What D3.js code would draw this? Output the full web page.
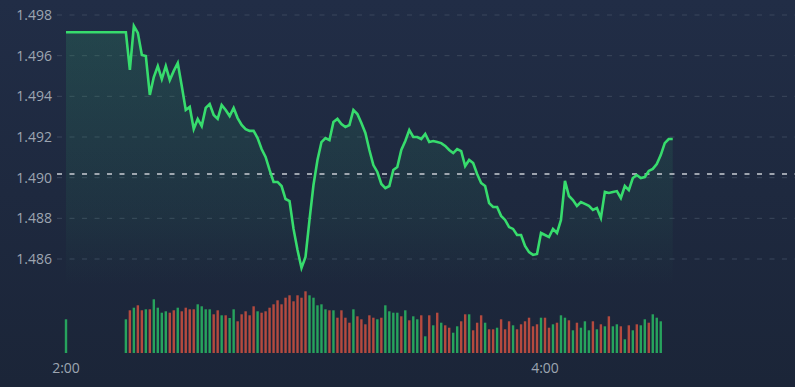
<!DOCTYPE html>
<html>
<head>
<meta charset="utf-8">
<script src="https://cdn.jsdelivr.net/npm/d3@7"></script>
<style>
  html, body { margin: 0; padding: 0; background: #1d283d; overflow: hidden; }
  svg { display: block; }
</style>
</head>
<body>
<div id="chart"></div>
<script>
// chart size
const width = 795;
const height = 387;

// minutes after 2:00 for each price point
const priceMinutes = [0].concat(d3.range(15, 153));
// price
const prices = [
  1.49715,
  1.49715, 1.49530, 1.49746, 1.49712, 1.49603, 1.49598, 1.49407, 1.49495, 1.49549, 1.49485,
  1.49549, 1.49480, 1.49525, 1.49564, 1.49451, 1.49333, 1.49348, 1.49239, 1.49289, 1.49254,
  1.49343, 1.49362, 1.49308, 1.49289, 1.49357, 1.49333, 1.49303, 1.49343, 1.49293, 1.49259,
  1.49239, 1.49230, 1.49230, 1.49195, 1.49141, 1.49102, 1.49038, 1.48979, 1.48979, 1.48959,
  1.48895, 1.48885, 1.48748, 1.48644, 1.48556, 1.48610, 1.48792, 1.48964, 1.49087, 1.49175,
  1.49195, 1.49185, 1.49274, 1.49289, 1.49264, 1.49249, 1.49259, 1.49333, 1.49313, 1.49269,
  1.49220, 1.49136, 1.49062, 1.49028, 1.48969, 1.48949, 1.48959, 1.49038, 1.49052, 1.49136,
  1.49180, 1.49234, 1.49200, 1.49200, 1.49190, 1.49215, 1.49175, 1.49180, 1.49175, 1.49170,
  1.49156, 1.49136, 1.49121, 1.49141, 1.49131, 1.49057, 1.49087, 1.49072, 1.49018, 1.48974,
  1.48959, 1.48875, 1.48856, 1.48856, 1.48812, 1.48792, 1.48757, 1.48748, 1.48718, 1.48718,
  1.48664, 1.48634, 1.48620, 1.48625, 1.48728, 1.48718, 1.48708, 1.48748, 1.48728, 1.48792,
  1.48984, 1.48910, 1.48890, 1.48861, 1.48880, 1.48871, 1.48861, 1.48841, 1.48851, 1.48802,
  1.48930, 1.48925, 1.48930, 1.48934, 1.48900, 1.48959, 1.48939, 1.48998, 1.49013, 1.48998,
  1.49003, 1.49033, 1.49043, 1.49067, 1.49111, 1.49170, 1.49190, 1.49190
];

// volume bars: minute, size, direction (1 up / 0 down)
const volMinutes = [0].concat(d3.range(15, 150));
const volumes = [
  337,
  337, 427, 453, 477, 427, 437, 437, 537, 453, 403,
  417, 403, 427, 453, 417, 453, 437, 437, 487, 467,
  437, 437, 387, 427, 377, 377, 350, 437, 317, 387,
  417, 377, 467, 417, 403, 417, 453, 487, 527, 487,
  553, 577, 517, 577, 553, 617, 577, 553, 477, 487,
  437, 427, 427, 353, 427, 353, 303, 437, 367, 337,
  287, 377, 353, 337, 353, 477, 417, 403, 403, 367,
  427, 327, 367, 337, 377, 167, 377, 277, 403, 303,
  277, 253, 203, 267, 317, 387, 387, 227, 303, 377,
  303, 237, 237, 253, 337, 237, 317, 277, 237, 287,
  317, 353, 267, 287, 353, 353, 253, 287, 303, 377,
  353, 327, 227, 303, 253, 317, 227, 317, 237, 287,
  267, 367, 267, 287, 267, 137, 277, 227, 287, 277,
  337, 303, 387, 353, 317
];
const volDirs = [
  1,
  1, 0, 1, 0, 0, 1, 0, 1, 1, 1,
  1, 0, 0, 1, 0, 0, 0, 0, 1, 1,
  1, 1, 0, 0, 1, 0, 1, 1, 0, 0,
  0, 0, 0, 1, 0, 0, 0, 0, 0, 0,
  0, 0, 0, 0, 0, 0, 1, 1, 1, 1,
  1, 0, 1, 0, 0, 0, 0, 1, 0, 0,
  0, 0, 0, 1, 0, 1, 1, 1, 1, 0,
  1, 0, 1, 1, 0, 1, 0, 1, 0, 1,
  0, 0, 1, 1, 0, 0, 1, 0, 0, 0,
  1, 0, 0, 1, 0, 0, 0, 1, 0, 0,
  0, 0, 0, 0, 1, 0, 0, 1, 0, 1,
  1, 0, 1, 0, 1, 1, 1, 0, 1, 0,
  1, 0, 1, 1, 0, 1, 0, 1, 0, 1,
  1, 0, 1, 1, 1
];

// axis ticks
const yTicks = [1.486, 1.488, 1.490, 1.492, 1.494, 1.496, 1.498];
const xTicks = [0, 120];
const xTickLabels = ["2:00", "4:00"];
const refPrice = 1.49018;

const x = d3.scaleLinear().domain([0, 120]).range([66, 545]);
const y = d3.scaleLinear().domain([1.486, 1.498]).range([259, 15]);
const yVol = d3.scaleLinear().domain([0, 620]).range([353, 291]);

const svg = d3.select("#chart")
    .append("svg")
    .attr("width", width)
    .attr("height", height);

const defs = svg.append("defs");
const bg = defs.append("linearGradient")
    .attr("id", "bg").attr("x1", 0).attr("y1", 0).attr("x2", 0).attr("y2", 1);
bg.append("stop").attr("offset", "0%").attr("stop-color", "#212d46");
bg.append("stop").attr("offset", "100%").attr("stop-color", "#1b2538");

// fill fades out towards the bottom of the price panel
const areaGrad = defs.append("linearGradient")
    .attr("id", "areaGrad")
    .attr("gradientUnits", "userSpaceOnUse")
    .attr("x1", 0).attr("y1", 15).attr("x2", 0).attr("y2", 285);
areaGrad.append("stop").attr("offset", "0%").attr("stop-color", "#2fae6a").attr("stop-opacity", 0.2);
areaGrad.append("stop").attr("offset", "75%").attr("stop-color", "#2fae6a").attr("stop-opacity", 0.07);
areaGrad.append("stop").attr("offset", "100%").attr("stop-color", "#2fae6a").attr("stop-opacity", 0.0);

svg.append("rect")
    .attr("width", width).attr("height", height)
    .attr("fill", "url(#bg)");

// grid lines
svg.append("g")
    .selectAll("line")
    .data(yTicks)
    .join("line")
    .attr("x1", 57).attr("x2", width)
    .attr("y1", d => y(d)).attr("y2", d => y(d))
    .attr("stroke", "#3b475c")
    .attr("stroke-width", 1)
    .attr("stroke-dasharray", "5,7.5");

// y labels
svg.append("g")
    .selectAll("text")
    .data(yTicks)
    .join("text")
    .attr("x", 52)
    .attr("y", d => y(d))
    .attr("dy", "0.35em")
    .attr("text-anchor", "end")
    .attr("fill", "#9da5b1")
    .style("font-family", "'Open Sans', sans-serif")
    .style("font-size", "14px")
    .text(d => d.toFixed(3));

const pts = priceMinutes.map((m, i) => ({ m: m, v: prices[i] }));

// area under the line
const area = d3.area()
    .x(d => x(d.m))
    .y0(285)
    .y1(d => y(d.v));
svg.append("path")
    .datum(pts)
    .attr("d", area)
    .attr("fill", "url(#areaGrad)");

// reference line
svg.append("line")
    .attr("x1", 57).attr("x2", width)
    .attr("y1", y(refPrice)).attr("y2", y(refPrice))
    .attr("stroke", "#c9cdd3")
    .attr("stroke-width", 1.5)
    .attr("stroke-dasharray", "5,7.5");

// price line
const line = d3.line()
    .x(d => x(d.m))
    .y(d => y(d.v));
svg.append("path")
    .datum(pts)
    .attr("d", line)
    .attr("fill", "none")
    .attr("stroke", "#37dc6d")
    .attr("stroke-width", 2.6)
    .attr("stroke-linejoin", "miter");

// volume bars
const vols = volMinutes.map((m, i) => ({ m: m, v: volumes[i], up: volDirs[i] }));
svg.append("g")
    .selectAll("rect")
    .data(vols)
    .join("rect")
    .attr("x", d => x(d.m) - 1.2)
    .attr("width", 2.4)
    .attr("y", d => yVol(d.v))
    .attr("height", d => yVol(0) - yVol(d.v))
    .attr("fill", d => d.up ? "#27a35d" : "#b44a3f");

// x labels
svg.append("g")
    .selectAll("text")
    .data(xTicks)
    .join("text")
    .attr("x", d => x(d))
    .attr("y", 373)
    .attr("text-anchor", "middle")
    .attr("fill", "#9da5b1")
    .style("font-family", "'Open Sans', sans-serif")
    .style("font-size", "14px")
    .text((d, i) => xTickLabels[i]);
</script>
</body>
</html>
